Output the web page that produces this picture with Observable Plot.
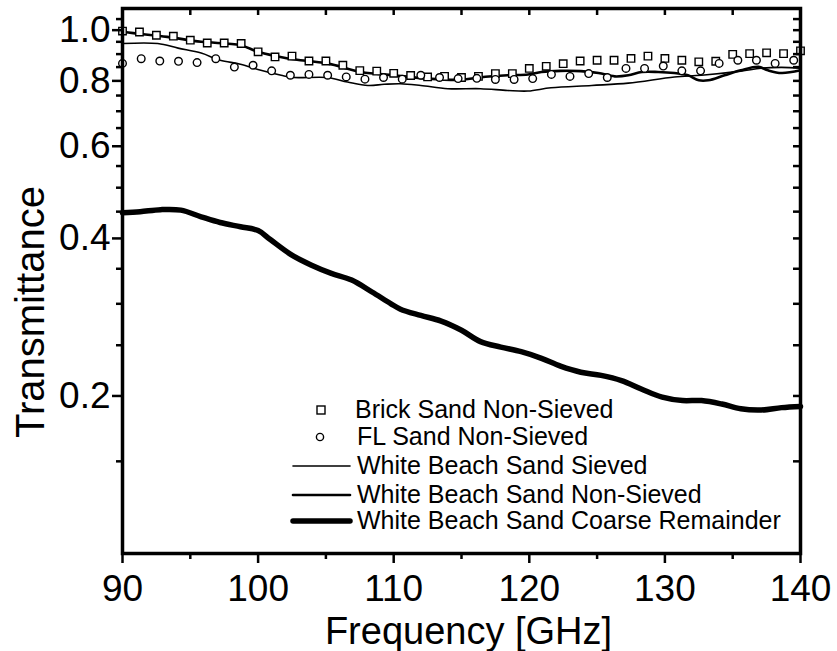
<!DOCTYPE html>
<html>
<head>
<meta charset="utf-8">
<script src="https://cdn.jsdelivr.net/npm/d3@7"></script>
<script src="https://cdn.jsdelivr.net/npm/@observablehq/plot@0.6"></script>
<style>
  html, body { margin: 0; padding: 0; background: white; }
  #wrap { position: relative; width: 837px; height: 651px; }
  #legend { position: absolute; left: 0; top: 0; pointer-events: none; }
  #legend text { font-family: 'Liberation Sans', Arial, sans-serif; font-size: 25px; fill: black; }
</style>
</head>
<body>
<div id="wrap"></div>
<script>
// ---- Data ----
const brickFreq = [90, 91.25, 92.5, 93.75, 95, 96.25, 97.5, 98.75, 100, 101.25, 102.5, 103.75, 105, 106.25, 107.5, 108.75, 110, 111.25, 112.5, 113.75, 115, 116.25, 117.5, 118.75, 120, 121.25, 122.5, 123.75, 125, 126.25, 127.5, 128.75, 130, 131.25, 132.5, 133.75, 135, 136.25, 137.5, 138.75, 140];
const brickT = [0.996, 0.992, 0.978, 0.974, 0.957, 0.945, 0.945, 0.943, 0.909, 0.889, 0.892, 0.873, 0.873, 0.857, 0.837, 0.835, 0.827, 0.819, 0.814, 0.816, 0.812, 0.816, 0.826, 0.826, 0.845, 0.853, 0.863, 0.873, 0.876, 0.876, 0.883, 0.892, 0.883, 0.876, 0.870, 0.872, 0.899, 0.902, 0.905, 0.902, 0.913];

const flFreq = [90, 91.38, 92.75, 94.13, 95.5, 96.88, 98.25, 99.63, 101, 102.38, 103.75, 105.13, 106.5, 107.88, 109.25, 110.63, 112, 113.38, 114.75, 116.13, 117.5, 118.88, 120.25, 121.63, 123, 124.38, 125.75, 127.13, 128.5, 129.88, 131.25, 132.63, 134, 135.38, 136.75, 138.13, 139.5];
const flT = [0.864, 0.882, 0.873, 0.872, 0.867, 0.882, 0.850, 0.857, 0.836, 0.820, 0.823, 0.820, 0.814, 0.806, 0.812, 0.806, 0.820, 0.812, 0.808, 0.809, 0.805, 0.805, 0.808, 0.823, 0.816, 0.826, 0.812, 0.845, 0.845, 0.854, 0.836, 0.836, 0.864, 0.876, 0.876, 0.864, 0.876];

const sievedFreq = [90, 92.6, 94.1, 95.8, 97.2, 98.7, 100.2, 101.7, 102.6, 105.1, 106.6, 108.1, 109.3, 110.5, 112, 114, 116.4, 118.4, 119.9, 121.6, 124.6, 127.3, 130.7, 132.7, 135.6, 137.1, 138.6, 140];
const sievedT = [0.943, 0.943, 0.924, 0.904, 0.876, 0.861, 0.838, 0.820, 0.812, 0.812, 0.796, 0.784, 0.788, 0.790, 0.784, 0.773, 0.773, 0.767, 0.765, 0.776, 0.784, 0.792, 0.814, 0.820, 0.835, 0.846, 0.849, 0.846];

const nonSievedFreq = [90, 90.8, 93.3, 95.8, 98.7, 100, 102.2, 105.1, 107.6, 110, 112.5, 115, 116.3, 118.4, 119.9, 120.9, 122.3, 123.8, 125.1, 126.3, 127.3, 128.3, 129.5, 130.7, 131.7, 132.5, 133.2, 134.4, 135.6, 136.9, 137.6, 138.6, 140];
const nonSievedT = [0.993, 0.987, 0.971, 0.950, 0.936, 0.909, 0.883, 0.864, 0.832, 0.820, 0.808, 0.804, 0.812, 0.820, 0.823, 0.832, 0.836, 0.835, 0.828, 0.816, 0.820, 0.832, 0.832, 0.828, 0.820, 0.802, 0.802, 0.820, 0.838, 0.851, 0.838, 0.828, 0.838];

const coarseFreq = [90, 91.3, 92.8, 94.3, 95.8, 97.2, 98.7, 100, 100.9, 102.4, 103.9, 105.4, 106.9, 108.4, 109.8, 110.5, 112, 113.5, 115, 116.4, 117.9, 119.4, 120.9, 122.3, 123.8, 125.3, 126.8, 128.3, 129.8, 131.3, 132.7, 134.2, 135.6, 137.1, 138.6, 140];
const coarseT = [0.448, 0.450, 0.454, 0.453, 0.440, 0.429, 0.421, 0.414, 0.398, 0.373, 0.356, 0.343, 0.333, 0.316, 0.300, 0.293, 0.285, 0.278, 0.267, 0.254, 0.248, 0.243, 0.236, 0.228, 0.222, 0.219, 0.214, 0.206, 0.199, 0.196, 0.196, 0.193, 0.189, 0.188, 0.190, 0.191];

const xMajor = [90, 100, 110, 120, 130, 140];
const xMinor = [95, 105, 115, 125, 135];
const yMajor = [0.2, 0.4, 0.6, 0.8, 1.0];
const yMinor = [0.15, 0.25, 0.3, 0.35, 0.45, 0.5, 0.55, 0.65, 0.7, 0.75, 0.85, 0.9, 0.95, 1.05];

const seriesNames = ["Brick Sand Non-Sieved", "FL Sand Non-Sieved", "White Beach Sand Sieved", "White Beach Sand Non-Sieved", "White Beach Sand Coarse Remainder"];

const toRows = (fs, ts) => fs.map((f, i) => ({f, t: ts[i]}));
const brick = toRows(brickFreq, brickT);
const fl = toRows(flFreq, flT);
const sieved = toRows(sievedFreq, sievedT);
const nonSieved = toRows(nonSievedFreq, nonSievedT);
const coarse = toRows(coarseFreq, coarseT);

const FONT = "'Liberation Sans', Arial, Helvetica, sans-serif";

const chart = Plot.plot({
  width: 837,
  height: 651,
  marginLeft: 122,
  marginRight: 37,
  marginTop: 8,
  marginBottom: 98,
  style: {fontFamily: FONT, color: "black", background: "white", overflow: "visible"},
  x: {domain: [90, 140]},
  y: {type: "log", domain: [0.1, 1.1]},
  marks: [
    Plot.line(sieved, {x: "f", y: "t", stroke: "black", strokeWidth: 1.6, curve: "catmull-rom"}),
    Plot.line(nonSieved, {x: "f", y: "t", stroke: "black", strokeWidth: 2.6, curve: "catmull-rom"}),
    Plot.line(coarse, {x: "f", y: "t", stroke: "black", strokeWidth: 5.5, curve: "catmull-rom"}),
    Plot.dot(brick, {x: "f", y: "t", symbol: "square", r: 4.2, stroke: "black", fill: "white", strokeWidth: 1.4}),
    Plot.dot(fl, {x: "f", y: "t", symbol: "circle", r: 3.8, stroke: "black", fill: "white", strokeWidth: 1.4}),
    Plot.frame({stroke: "black", strokeWidth: 3.5}),
    // left axis (outward ticks)
    Plot.axisY(yMajor, {anchor: "left", tickSize: 10, tickPadding: 2, strokeWidth: 2.5, fontSize: 37, tickFormat: d => d.toFixed(1), label: null}),
    Plot.axisY(yMinor, {anchor: "left", tickSize: 6, strokeWidth: 2.5, fill: "none", label: null}),
    // right axis (inward ticks)
    Plot.axisY(yMajor.concat(yMinor), {anchor: "left", frameAnchor: "right", tickSize: 7, strokeWidth: 2.5, fill: "none", label: null}),
    // bottom axis (outward ticks)
    Plot.axisX(xMajor, {anchor: "bottom", tickSize: 10, tickPadding: 11, strokeWidth: 2.5, fontSize: 37, label: null}),
    Plot.axisX(xMinor, {anchor: "bottom", tickSize: 6, strokeWidth: 2.5, fill: "none", label: null}),
    // top axis (inward ticks)
    Plot.axisX(xMajor.concat(xMinor), {anchor: "bottom", frameAnchor: "top", tickSize: 7, strokeWidth: 2.5, fill: "none", label: null}),
    // axis titles
    Plot.text(["Transmittance"], {text: d => d, frameAnchor: "left", textAnchor: "middle", rotate: -90, dx: -79, dy: 31, lineAnchor: "bottom", fontSize: 40}),
    Plot.text(["Frequency [GHz]"], {text: d => d, frameAnchor: "bottom", textAnchor: "middle", dx: 7, dy: 90, lineAnchor: "bottom", fontSize: 38})
  ]
});

const wrap = document.getElementById("wrap");
wrap.appendChild(chart);

// ---- Legend (overlay inside the plot frame) ----
const ns = "http://www.w3.org/2000/svg";
const leg = document.createElementNS(ns, "svg");
leg.setAttribute("id", "legend");
leg.setAttribute("width", 837);
leg.setAttribute("height", 651);
const mk = (tag, attrs) => { const e = document.createElementNS(ns, tag); for (const k in attrs) e.setAttribute(k, attrs[k]); leg.appendChild(e); return e; };
const rowY = [410, 437, 466, 495, 521];
const textX = [355, 357, 357, 357, 357];
mk("rect", {x: 317, y: rowY[0] - 4, width: 8, height: 8, fill: "white", stroke: "black", "stroke-width": 1.4});
mk("circle", {cx: 320, cy: rowY[1], r: 3.6, fill: "white", stroke: "black", "stroke-width": 1.4});
[1.6, 2.6, 5.5].forEach((w, i) => mk("line", {x1: 293, x2: 350, y1: rowY[i + 2], y2: rowY[i + 2], stroke: "black", "stroke-width": w, "stroke-linecap": "round"}));
seriesNames.forEach((name, i) => { const t = mk("text", {x: textX[i], y: rowY[i] + 7.5}); t.textContent = name; });
wrap.appendChild(leg);
</script>
</body>
</html>
